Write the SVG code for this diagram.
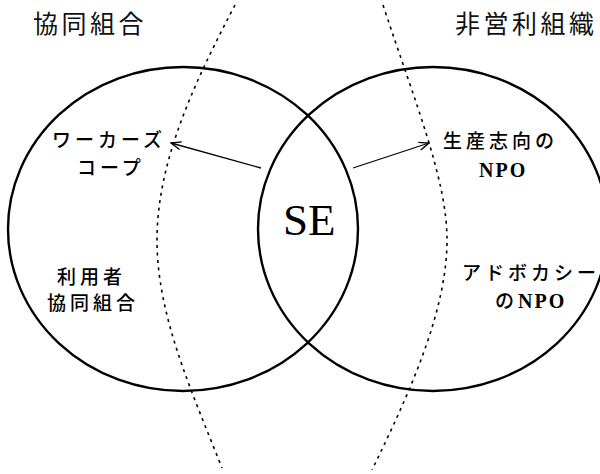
<svg xmlns="http://www.w3.org/2000/svg" width="600" height="474" viewBox="0 0 600 474">
<style>
.ring{fill:none;stroke:#000;stroke-width:2.4}
.bound{fill:none;stroke:#000;stroke-width:1.6;stroke-dasharray:3 4.5}
.arrow{fill:none;stroke:#000;stroke-width:1.3;marker-end:url(#head)}
.title{font-family:"Noto Sans CJK JP","Noto Sans",sans-serif;font-size:25px;letter-spacing:3.5px;fill:#111}
.lab{font-family:"Noto Sans CJK JP","Noto Sans",sans-serif;font-size:19px;font-weight:500;letter-spacing:4px;fill:#000}
.lat{font-family:"Liberation Serif",serif;font-size:20px;font-weight:bold;letter-spacing:2px}
.se{font-family:"Liberation Serif",serif;font-size:45px;fill:#000}
</style>
<defs>
<marker id="head" viewBox="0 0 12 10" refX="11" refY="5" markerWidth="12" markerHeight="10" markerUnits="userSpaceOnUse" orient="auto">
<path d="M1,1 L11,5 L1,9" fill="none" stroke="#000" stroke-width="1.4"/>
</marker>
</defs>
<rect width="600" height="474" fill="#fff"/>
<g id="coop">
<ellipse class="ring" cx="183" cy="229" rx="175" ry="162"/>
<text class="title" x="33" y="33">協同組合</text>
</g>
<g id="npo">
<ellipse class="ring" cx="433" cy="229" rx="175" ry="162"/>
<text class="title" x="455" y="33">非営利組織</text>
</g>
<g id="se">
<text class="se" x="283" y="235">SE</text>
</g>
<g id="workers-coop">
<text class="lab" x="52" y="147">ワーカーズ</text>
<text class="lab" x="77" y="175">コープ</text>
</g>
<g id="user-coop">
<text class="lab" x="57" y="284">利用者</text>
<text class="lab" x="47" y="310">協同組合</text>
</g>
<g id="production-npo">
<text class="lab" x="443" y="148">生産志向の</text>
<text class="lab" x="479" y="177"><tspan class="lat">NPO</tspan></text>
</g>
<g id="advocacy-npo">
<text class="lab" x="462" y="280">アドボカシー</text>
<text class="lab" x="495" y="308">の<tspan class="lat">NPO</tspan></text>
</g>
<g id="boundaries">
<path class="bound" d="M235,5 C194,83 157,162 157,240 C157,316 192,392 222,468"/>
<path class="bound" d="M383,5 C416,105 447,180 447,240 C447,310 411,390 372,470"/>
</g>
<g id="connectors">
<line class="arrow" x1="261" y1="168" x2="171" y2="143"/>
<line class="arrow" x1="353" y1="168" x2="429" y2="143"/>
</g>
</svg>
